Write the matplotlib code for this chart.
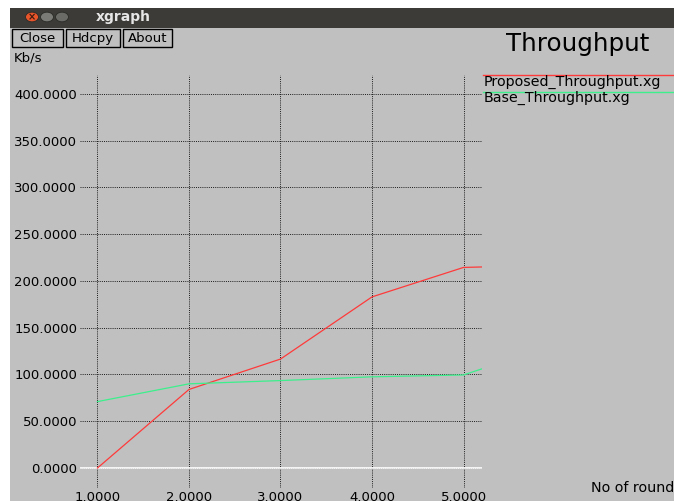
import matplotlib.pyplot as plt
from matplotlib.patches import Rectangle, Circle

# ---------------------------------------------------------
# Datos (leidos de la captura de xgraph)
# ---------------------------------------------------------
rondas = [1.0, 2.0, 3.0, 4.0, 5.0, 5.2]
proposed = [0.0, 84.0, 116.5, 183.0, 214.5, 215.0]
base = [71.0, 90.0, 93.5, 97.5, 99.5, 106.0]

xticks = [1.0, 2.0, 3.0, 4.0, 5.0]
yticks = [0, 50, 100, 150, 200, 250, 300, 350, 400]

titulo = "Throughput"
etiqueta_y = "Kb/s"
etiqueta_x = "No of round"
leyenda = ["Proposed_Throughput.xg", "Base_Throughput.xg"]
botones = ["Close", "Hdcpy", "About"]

W, H = 674, 501
GRIS = "#c0c0c0"
ROJO = "#ff3a3a"
VERDE = "#3cf08c"
FUENTE = "DejaVu Sans"


def fx(px):
    return px / W


def fy(py):
    return 1 - py / H


fig = plt.figure(figsize=(W / 100, H / 100), dpi=100)
fig.patch.set_facecolor("white")

# fondo gris de la ventana y barra de titulo
fig.patches.append(Rectangle((fx(10), 0), 1 - fx(10), fy(27), transform=fig.transFigure,
                             facecolor=GRIS, edgecolor="none", zorder=-10))
fig.patches.append(Rectangle((fx(10), fy(28)), 1 - fx(10), fy(8) - fy(28), transform=fig.transFigure,
                             facecolor="#3c3b37", edgecolor="none", zorder=-10))
for cx, col in [(32, "#e8552a"), (47, "#7a7a76"), (62, "#6a6a66")]:
    fig.patches.append(Circle((fx(cx), fy(17)), 6.5 / W, transform=fig.transFigure,
                              facecolor=col, edgecolor="#2a2a28", lw=0.6, zorder=-5))
fig.text(fx(32), fy(17.5), "×", color="#3c1a10", fontsize=7, ha="center", va="center", fontweight="bold")
fig.text(fx(96), fy(17), "xgraph", color="#e6e6e6", fontsize=10, fontweight="bold",
         ha="left", va="center", family=FUENTE)

# botones
for (x0, x1), nombre in zip([(12, 63), (66, 120), (123, 172)], botones):
    fig.patches.append(Rectangle((fx(x0), fy(47)), fx(x1) - fx(x0), fy(29) - fy(47),
                                 transform=fig.transFigure, facecolor=GRIS,
                                 edgecolor="black", lw=1.0, zorder=-5))
    fig.text(fx((x0 + x1) / 2), fy(38.5), nombre, fontsize=9.5, ha="center", va="center",
             family=FUENTE)

fig.text(fx(506), fy(44), titulo, fontsize=17.7, ha="left", va="center", family=FUENTE)
fig.text(fx(14), fy(58), etiqueta_y, fontsize=9.5, ha="left", va="center", family=FUENTE)
fig.text(fx(591), fy(488), etiqueta_x, fontsize=10.3, ha="left", va="center", family=FUENTE)

# ---------------------------------------------------------
# Area de grafica
# ---------------------------------------------------------
ax = fig.add_axes([fx(80), fy(488), fx(482) - fx(80), fy(75) - fy(488)])
ax.set_facecolor("none")
ax.set_xlim(0.809, 5.202)
ax.set_ylim(-21.4, 420.3)
for s in ax.spines.values():
    s.set_visible(False)

ax.set_xticks(xticks)
ax.set_yticks(yticks)
ax.set_xticklabels([f"{v:.4f}" for v in xticks])
ax.set_yticklabels([f"{v:.4f}" for v in yticks])
ax.tick_params(length=0, labelsize=9.5, pad=2)
for lab in ax.get_xticklabels() + ax.get_yticklabels():
    lab.set_family(FUENTE)
ax.grid(True, color="#1a1a1a", linestyle=(0, (1, 1.2)), linewidth=0.7)
ax.set_axisbelow(True)

ax.axhline(0, color="white", lw=1.2, zorder=2)
ax.plot(rondas, proposed, color=ROJO, lw=0.9, zorder=3)
ax.plot(rondas, base, color=VERDE, lw=0.9, zorder=3)

# leyenda al estilo xgraph
for yl, yt, col, txt in [(75, 82, ROJO, leyenda[0]), (92, 97.5, VERDE, leyenda[1])]:
    fig.lines.append(plt.Line2D([fx(483), 1], [fy(yl), fy(yl)], transform=fig.transFigure,
                                color=col, lw=1.0))
    fig.text(fx(484), fy(yt), txt, fontsize=10.3, ha="left", va="center", family=FUENTE)

plt.savefig("out.png", dpi=100, facecolor=fig.get_facecolor())
